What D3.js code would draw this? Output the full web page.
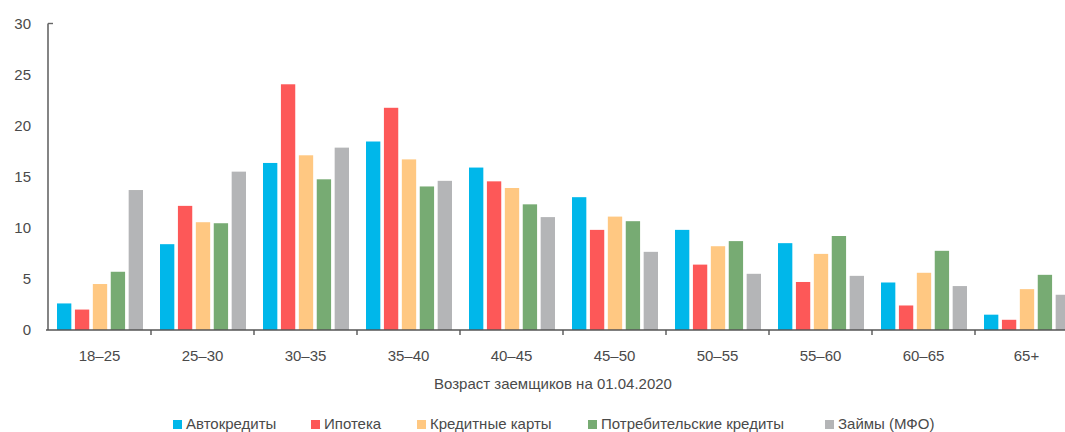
<!DOCTYPE html>
<html>
<head>
<meta charset="utf-8">
<script src="https://cdn.jsdelivr.net/npm/d3@7/dist/d3.min.js"></script>
<style>
  html, body { margin: 0; padding: 0; background: #fff; }
  svg { display: block; }
  text { font-family: "Liberation Sans", Arial, sans-serif; fill: #4a4a4a; }
</style>
</head>
<body>
<svg id="chart" width="1065" height="432"></svg>
<script>
// Age groups of borrowers
const categories = ["18–25", "25–30", "30–35", "35–40", "40–45", "45–50", "50–55", "55–60", "60–65", "65+"];

// Share of borrowers by age group, %
const autoLoans     = [2.6, 8.4, 16.35, 18.45, 15.9, 13.0, 9.8, 8.5, 4.65, 1.5];
const mortgage      = [2.0, 12.15, 24.05, 21.75, 14.55, 9.8, 6.4, 4.7, 2.4, 1.0];
const creditCards   = [4.5, 10.55, 17.1, 16.7, 13.9, 11.1, 8.2, 7.45, 5.6, 4.0];
const consumerLoans = [5.7, 10.45, 14.75, 14.05, 12.3, 10.65, 8.7, 9.2, 7.75, 5.4];
const mfoLoans      = [13.7, 15.5, 17.85, 14.6, 11.05, 7.65, 5.5, 5.3, 4.3, 3.45];

const seriesNames = ["Автокредиты", "Ипотека", "Кредитные карты", "Потребительские кредиты", "Займы (МФО)"];
const seriesValues = [autoLoans, mortgage, creditCards, consumerLoans, mfoLoans];
const seriesColors = ["#00b7ea", "#fd5858", "#ffc882", "#77ab73", "#b4b5b7"];

const yTicks = [0, 5, 10, 15, 20, 25, 30];
const xTitle = "Возраст заемщиков на 01.04.2020";

const svg = d3.select("#chart");
const plotLeft = 48, plotBottom = 330, plotTop = 23.5;
const step = 103;

const x0 = d3.scaleBand().domain(categories).range([plotLeft, plotLeft + step * categories.length]).padding(0);
const x1 = d3.scaleBand().domain(d3.range(seriesNames.length)).range([9, 95]).paddingInner(0.2).paddingOuter(0);
const y = d3.scaleLinear().domain([0, 30]).range([plotBottom, plotTop]);

// bars
const groups = svg.append("g").selectAll("g")
  .data(categories)
  .join("g")
  .attr("transform", d => `translate(${x0(d)},0)`);

groups.selectAll("rect")
  .data((c, i) => seriesValues.map((vals, s) => ({ s, v: vals[i] })))
  .join("rect")
  .attr("x", d => x1(d.s))
  .attr("width", x1.bandwidth())
  .attr("y", d => y(d.v))
  .attr("height", d => y(0) - y(d.v))
  .attr("fill", d => seriesColors[d.s]);

// y axis
const yAxis = svg.append("g");
yAxis.append("line")
  .attr("x1", plotLeft).attr("x2", plotLeft)
  .attr("y1", y(30)).attr("y2", y(0))
  .attr("stroke", "#666").attr("stroke-width", 1.6);
yAxis.append("line")
  .attr("x1", plotLeft).attr("x2", plotLeft + 5)
  .attr("y1", y(30)).attr("y2", y(30))
  .attr("stroke", "#666").attr("stroke-width", 1.4);
yAxis.selectAll("text")
  .data(yTicks)
  .join("text")
  .attr("x", 31)
  .attr("y", d => y(d))
  .attr("dy", "0.35em")
  .attr("text-anchor", "end")
  .attr("font-size", 15)
  .text(d => d);

// x axis
const xAxis = svg.append("g");
xAxis.append("line")
  .attr("x1", plotLeft - 2).attr("x2", 1080)
  .attr("y1", plotBottom).attr("y2", plotBottom)
  .attr("stroke", "#555").attr("stroke-width", 1.6);
xAxis.selectAll("line.tick")
  .data(categories.slice(1))
  .join("line")
  .attr("class", "tick")
  .attr("x1", d => x0(d)).attr("x2", d => x0(d))
  .attr("y1", plotBottom).attr("y2", plotBottom + 5)
  .attr("stroke", "#555").attr("stroke-width", 1.4);
xAxis.selectAll("text")
  .data(categories)
  .join("text")
  .attr("x", d => x0(d) + x0.bandwidth() / 2)
  .attr("y", 361)
  .attr("text-anchor", "middle")
  .attr("font-size", 15)
  .text(d => d);

svg.append("text")
  .attr("x", 553)
  .attr("y", 389)
  .attr("text-anchor", "middle")
  .attr("font-size", 15)
  .text(xTitle);

// legend
const legendX = [173, 311, 417, 588, 825];
const legend = svg.append("g").selectAll("g")
  .data(seriesNames)
  .join("g")
  .attr("transform", (d, i) => `translate(${legendX[i]},420)`);
legend.append("rect")
  .attr("width", 9).attr("height", 9)
  .attr("fill", (d, i) => seriesColors[i]);
legend.append("text")
  .attr("x", 13)
  .attr("y", 9)
  .attr("font-size", 15)
  .text(d => d);
</script>
</body>
</html>
